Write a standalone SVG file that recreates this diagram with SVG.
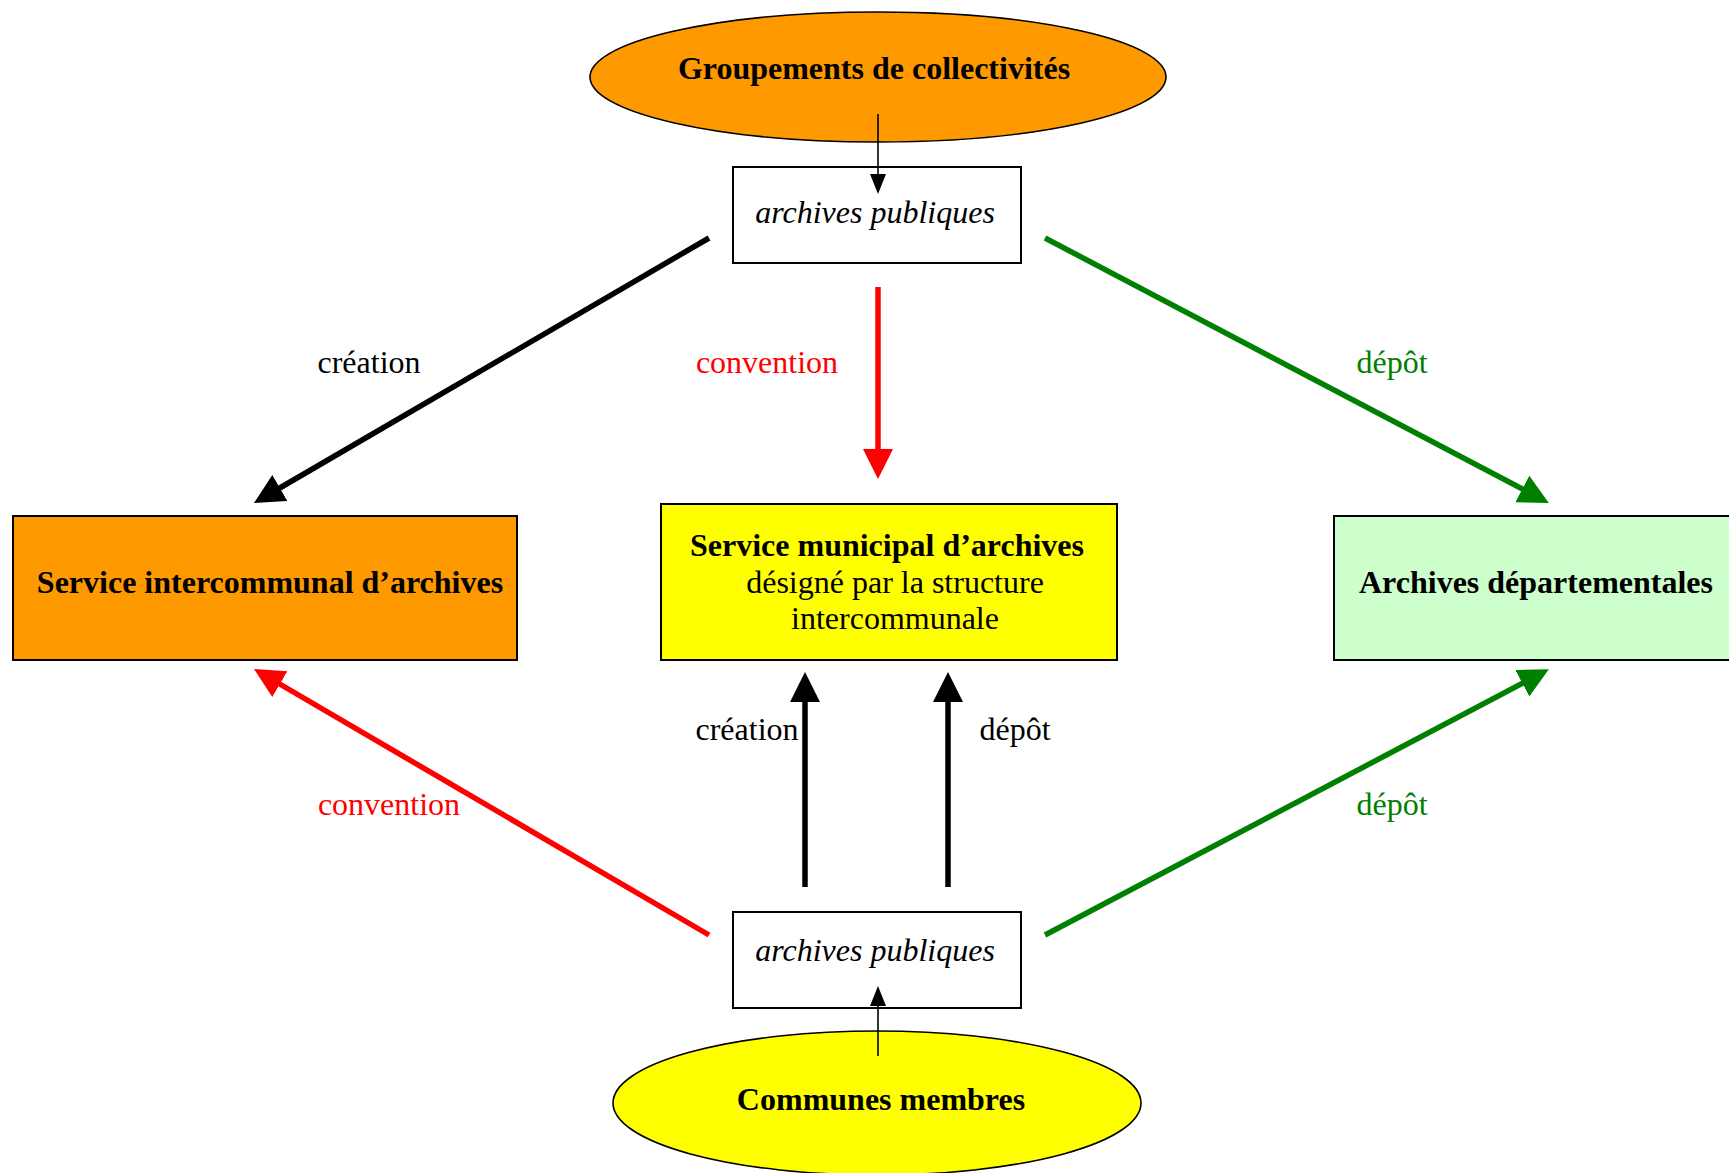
<svg xmlns="http://www.w3.org/2000/svg" width="1729" height="1173" viewBox="0 0 1729 1173">
<style>
text{font-family:"Liberation Serif","Times New Roman",serif;font-size:32px;text-anchor:middle}
.b{font-weight:bold}
.i{font-style:italic}
.box{stroke:#000;stroke-width:2}
.thick{stroke-width:5.5;fill:none}
.thin{stroke:#000;stroke-width:1.6;fill:none}
</style>
<defs>
<marker id="ak" markerUnits="userSpaceOnUse" markerWidth="32" markerHeight="32" refX="20" refY="15" orient="auto"><path d="M0,0 L30,15 L0,30 z" fill="#000"/></marker>
<marker id="ar" markerUnits="userSpaceOnUse" markerWidth="32" markerHeight="32" refX="20" refY="15" orient="auto"><path d="M0,0 L30,15 L0,30 z" fill="#f00"/></marker>
<marker id="ag" markerUnits="userSpaceOnUse" markerWidth="32" markerHeight="32" refX="20" refY="15" orient="auto"><path d="M0,0 L30,15 L0,30 z" fill="#008000"/></marker>
<marker id="as" markerUnits="userSpaceOnUse" markerWidth="22" markerHeight="18" refX="16" refY="8" orient="auto"><path d="M0,0 L20,8 L0,16 z" fill="#000"/></marker>
</defs>
<rect width="1729" height="1173" fill="#fff"/>

<g id="groupements">
<ellipse cx="878" cy="77" rx="288" ry="65" fill="#ff9900" stroke="#000" stroke-width="1.6"/>
<text x="874" y="79" class="b">Groupements de collectivités</text>
</g>
<g id="archives-top">
<rect x="733" y="167" width="288" height="96" fill="#fff" class="box"/>
<text x="875" y="223" class="i">archives publiques</text>
</g>
<g id="service-intercommunal">
<rect x="13" y="516" width="504" height="144" fill="#ff9900" class="box"/>
<text x="270" y="593" class="b">Service intercommunal d’archives</text>
</g>
<g id="service-municipal">
<rect x="661" y="504" width="456" height="156" fill="#ffff00" class="box"/>
<text x="887" y="556" class="b">Service municipal d’archives</text>
<text x="895" y="593">désigné par la structure</text>
<text x="895" y="629">intercommunale</text>
</g>
<g id="archives-departementales">
<rect x="1334" y="516" width="410" height="144" fill="#ccffcc" class="box"/>
<text x="1536" y="593" class="b">Archives départementales</text>
</g>
<g id="archives-bottom">
<rect x="733" y="912" width="288" height="96" fill="#fff" class="box"/>
<text x="875" y="961" class="i">archives publiques</text>
</g>
<g id="communes">
<ellipse cx="877" cy="1103" rx="264" ry="72" fill="#ffff00" stroke="#000" stroke-width="1.6"/>
<text x="881" y="1110" class="b">Communes membres</text>
</g>

<g id="connectors">
<line x1="878" y1="114" x2="878" y2="190" class="thin" marker-end="url(#as)"/>
<line x1="878" y1="1056" x2="878" y2="990" class="thin" marker-end="url(#as)"/>
<line x1="709" y1="238" x2="262.6" y2="498" class="thick" stroke="#000" marker-end="url(#ak)"/>
<line x1="878" y1="287" x2="878" y2="469" class="thick" stroke="#f00" marker-end="url(#ar)"/>
<line x1="1045" y1="238" x2="1540" y2="498.3" class="thick" stroke="#008000" marker-end="url(#ag)"/>
<line x1="709" y1="935" x2="262.6" y2="674" class="thick" stroke="#f00" marker-end="url(#ar)"/>
<line x1="805" y1="887" x2="805" y2="682" class="thick" stroke="#000" marker-end="url(#ak)"/>
<line x1="948" y1="887" x2="948" y2="682" class="thick" stroke="#000" marker-end="url(#ak)"/>
<line x1="1045" y1="935" x2="1540" y2="674" class="thick" stroke="#008000" marker-end="url(#ag)"/>
<text x="369" y="373">création</text>
<text x="767" y="373" fill="#f00">convention</text>
<text x="1392" y="373" fill="#008000">dépôt</text>
<text x="389" y="815" fill="#f00">convention</text>
<text x="747" y="740">création</text>
<text x="1015" y="740">dépôt</text>
<text x="1392" y="815" fill="#008000">dépôt</text>
</g>
</svg>
